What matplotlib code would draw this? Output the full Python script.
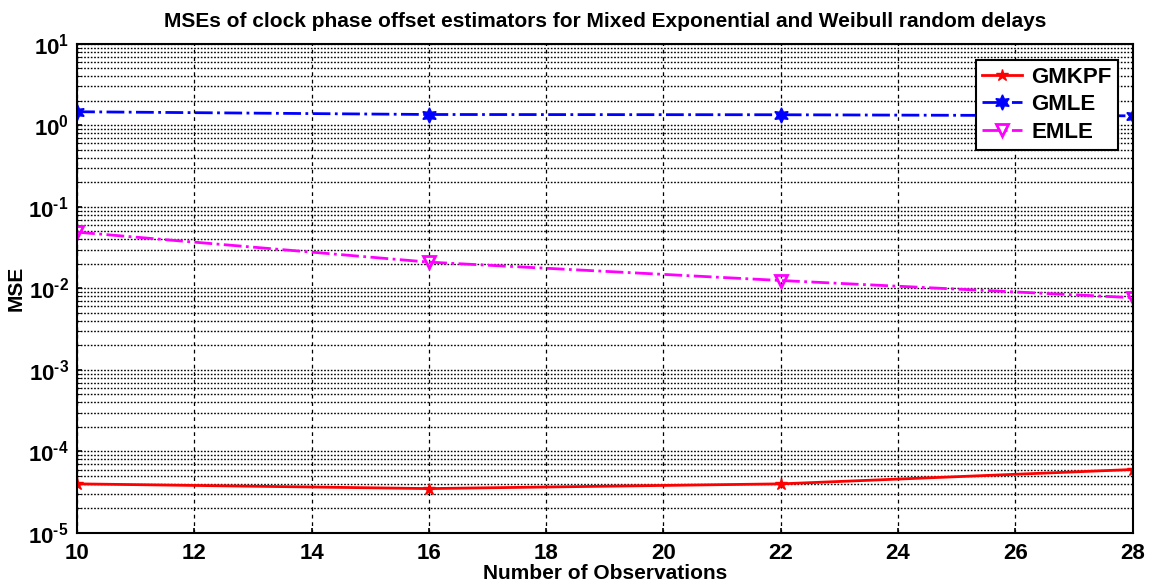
import matplotlib
matplotlib.use("Agg")
import matplotlib.pyplot as plt
from matplotlib.ticker import LogLocator, NullFormatter

plt.rcParams["font.family"] = ["Liberation Sans", "DejaVu Sans"]
plt.rcParams["font.weight"] = "bold"
plt.rcParams["mathtext.fontset"] = "custom"
plt.rcParams["mathtext.rm"] = "Liberation Sans:bold"
plt.rcParams["mathtext.it"] = "Liberation Sans:bold"
plt.rcParams["mathtext.bf"] = "Liberation Sans:bold"

observations = [10, 16, 22, 28]
gmkpf = [4.0e-5, 3.5e-5, 4.0e-5, 6.0e-5]
gmle = [1.47, 1.36, 1.35, 1.31]
emle = [0.049, 0.021, 0.0125, 0.0077]

x_ticks = [10, 12, 14, 16, 18, 20, 22, 24, 26, 28]
y_ticks = [1e-5, 1e-4, 1e-3, 1e-2, 1e-1, 1e0, 1e1]
y_labels = [r"$10^{\text{-}5}$", r"$10^{\text{-}4}$", r"$10^{\text{-}3}$", r"$10^{\text{-}2}$",
            r"$10^{\text{-}1}$", r"$10^{0}$", r"$10^{1}$"]

fig = plt.figure(figsize=(11.51, 5.85), dpi=100)
ax = fig.add_axes([0.067, 0.089, 0.917, 0.836])

ax.plot(observations, gmkpf, color="red", linestyle="-", linewidth=2,
        marker="*", markersize=9, label="GMKPF")
ax.plot(observations, gmle, color="blue", linestyle="-.", linewidth=2,
        marker=(6, 1, 0), markersize=11, label="GMLE")
ax.plot(observations, emle, color="magenta", linestyle="-.", linewidth=2,
        marker="v", markersize=9, markerfacecolor="none", markeredgewidth=2,
        label="EMLE")

ax.set_yscale("log")
ax.set_xlim(10, 28)
ax.set_ylim(1e-5, 1e1)
ax.set_xticks(x_ticks)
ax.set_xticklabels([str(t) for t in x_ticks])
ax.set_yticks(y_ticks)
ax.set_yticklabels(y_labels)
ax.yaxis.set_minor_locator(LogLocator(base=10, subs=range(2, 10), numticks=20))
ax.yaxis.set_minor_formatter(NullFormatter())
ax.tick_params(axis="both", labelsize=16, direction="in", width=1.2)
ax.tick_params(axis="x", pad=7)
ax.tick_params(axis="y", pad=6)
ax.tick_params(which="minor", direction="in", length=3)

ax.grid(True, which="major", axis="x", color="black", linestyle=(0, (3, 3)), linewidth=0.9)
ax.grid(True, which="both", axis="y", color="black", linestyle=(0, (1.2, 1.2)), linewidth=1.0)

for s in ax.spines.values():
    s.set_linewidth(1.5)

ax.set_title("MSEs of clock phase offset estimators for Mixed Exponential and Weibull random delays",
             fontsize=15, fontweight="bold", pad=12)
ax.set_xlabel("Number of Observations", fontsize=15, fontweight="bold", labelpad=0)
ax.set_ylabel("MSE", fontsize=15, fontweight="bold", labelpad=2)

leg = ax.legend(loc="upper right", fontsize=16, fancybox=False, framealpha=1,
                edgecolor="black", borderpad=0.3, handlelength=1.8,
                handletextpad=0.4, labelspacing=0.3, bbox_to_anchor=(0.997, 0.99))
leg.get_frame().set_linewidth(1.5)

fig.savefig("out.png", dpi=100)
